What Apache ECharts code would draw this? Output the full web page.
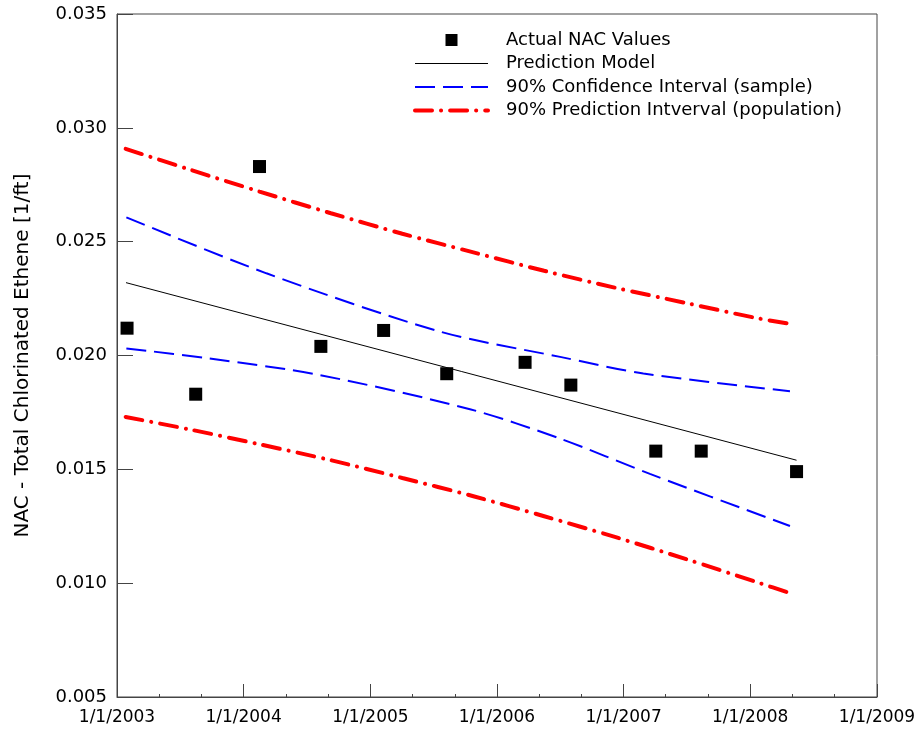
<!DOCTYPE html>
<html>
<head>
<meta charset="utf-8">
<script src="https://cdn.jsdelivr.net/npm/echarts@6/dist/echarts.min.js"></script>
<style>
  html, body { margin: 0; padding: 0; background: #fff; }
  #chart { width: 922px; height: 730px; }
</style>
</head>
<body>
<div id="chart"></div>
<script>
// observed NAC values
var obsDates = ['2003-01-30', '2003-08-16', '2004-02-16', '2004-08-11', '2005-02-08', '2005-08-09',
                '2006-03-23', '2006-08-02', '2007-04-04', '2007-08-13', '2008-05-14'];
var obsNac = [0.0212, 0.0183, 0.0283, 0.0204, 0.0211, 0.0192, 0.0197, 0.0187, 0.0158, 0.0158, 0.0149];

// regression line
var modelDates = ['2003-01-27', '2008-05-14'];
var modelNac = [0.0232, 0.0154];

// 90% confidence band (sample)
var ciUpperDates = ['2003-01-28', '2004-03-07', '2005-07-21', '2006-07-02', '2007-02-27', '2008-04-25'];
var ciUpper = [0.02607, 0.02361, 0.02105, 0.01994, 0.01921, 0.01843];
var ciLowerDates = ['2003-01-28', '2003-09-25', '2004-08-08', '2005-10-15', '2006-07-02', '2007-03-18', '2008-04-25'];
var ciLower = [0.02031, 0.01987, 0.01914, 0.01764, 0.01635, 0.01480, 0.01251];

// 90% prediction band (population)
var piDates = ['2003-01-26', '2003-07-27', '2004-02-16', '2004-09-09', '2005-04-03', '2005-10-25',
               '2006-05-17', '2006-12-07', '2007-07-02', '2008-01-21', '2008-05-05'];
var piUpper = [0.02908, 0.02818, 0.0272, 0.02625, 0.02535, 0.02453, 0.02372, 0.02298, 0.0223, 0.02164, 0.02137];
var piLower = [0.0173, 0.01676, 0.0161, 0.0154, 0.01462, 0.01382, 0.01294, 0.01203, 0.01105, 0.01004, 0.00951];

var yTicks = [0.005, 0.035, 0.005]; // min, max, step
var xRange = ['2003-01-01', '2009-01-01'];

var nameObs = 'Actual NAC Values';
var nameModel = 'Prediction Model';
var nameCI = '90% Confidence Interval (sample)';
var namePI = '90% Prediction Intverval (population)';

function utc(s) {
  var p = s.split('-');
  return Date.UTC(+p[0], +p[1] - 1, +p[2]);
}
function pairs(dates, vals) {
  return dates.map(function (d, i) { return [utc(d), vals[i]]; });
}

var FONT = 'DejaVu Sans';
var axisColor = '#444';
var redDash = [17, 9, 0.1, 9];
var blueDash = [20, 8];

var chart = echarts.init(document.getElementById('chart'), null, { renderer: 'canvas' });

function band(name, dates, vals, color, width, dash, cap) {
  return {
    name: name,
    type: 'line',
    data: pairs(dates, vals),
    symbol: 'none',
    showSymbol: false,
    smooth: 0.3,
    lineStyle: { color: color, width: width, type: dash, cap: cap || 'butt' },
    itemStyle: { color: color },
    z: 2
  };
}

chart.setOption({
  animation: false,
  useUTC: true,
  backgroundColor: '#fff',
  grid: {
    left: 117, right: 45, top: 14, bottom: 33,
    show: true, borderColor: axisColor, borderWidth: 1,
    outerBoundsMode: 'none'
  },
  legend: {
    orient: 'vertical',
    left: 413,
    top: 31,
    padding: 0,
    itemWidth: 73,
    itemHeight: 12,
    itemGap: 5.5,
    selectedMode: false,
    textStyle: { fontFamily: FONT, fontSize: 18, color: '#000', lineHeight: 18, padding: [0, 0, 0, 13] },
    data: [
      { name: nameObs, icon: 'path://M0,0H10V10H0Z', itemStyle: { color: '#000', opacity: 1 } },
      { name: nameModel, itemStyle: { opacity: 0 }, lineStyle: { color: '#000', width: 1 } },
      { name: nameCI, itemStyle: { opacity: 0 }, lineStyle: { color: '#0000ff', width: 2, type: blueDash } },
      { name: namePI, itemStyle: { opacity: 0 }, lineStyle: { color: '#ff0000', width: 4, type: redDash, cap: 'round' } }
    ]
  },
  xAxis: {
    type: 'time',
    min: utc(xRange[0]),
    max: utc(xRange[1]),
    splitNumber: 6,
    minInterval: 365 * 86400000,
    axisLine: { show: true, lineStyle: { color: axisColor, width: 1 } },
    axisTick: { show: true, inside: true, length: 13, lineStyle: { color: axisColor } },
    minorTick: { show: true, splitNumber: 3, length: 3, lineStyle: { color: axisColor } },
    splitLine: { show: false },
    axisLabel: {
      fontFamily: FONT, fontSize: 17, color: '#000', margin: 12,
      showMinLabel: true, showMaxLabel: true,
      formatter: function (v) {
        var d = new Date(v);
        return (d.getUTCMonth() + 1) + '/' + d.getUTCDate() + '/' + d.getUTCFullYear();
      }
    }
  },
  yAxis: {
    type: 'value',
    min: yTicks[0],
    max: yTicks[1],
    interval: yTicks[2],
    name: 'NAC - Total Chlorinated Ethene [1/ft]',
    nameLocation: 'middle',
    nameGap: 84,
    nameTextStyle: { fontFamily: FONT, fontSize: 20, color: '#000' },
    axisLine: { show: true, lineStyle: { color: axisColor, width: 1 } },
    axisTick: { show: true, inside: true, length: 16, lineStyle: { color: axisColor } },
    splitLine: { show: false },
    axisLabel: {
      fontFamily: FONT, fontSize: 18, color: '#000', margin: 10,
      formatter: function (v) { return v.toFixed(3); }
    }
  },
  series: [
    band(namePI, piDates, piUpper, '#ff0000', 4, redDash, 'round'),
    band(namePI, piDates, piLower, '#ff0000', 4, redDash, 'round'),
    band(nameCI, ciUpperDates, ciUpper, '#0000ff', 2, blueDash),
    band(nameCI, ciLowerDates, ciLower, '#0000ff', 2, blueDash),
    {
      name: nameModel,
      type: 'line',
      data: pairs(modelDates, modelNac),
      symbol: 'none',
      showSymbol: false,
      lineStyle: { color: '#000', width: 1 },
      itemStyle: { color: '#000' },
      z: 3
    },
    {
      name: nameObs,
      type: 'scatter',
      data: pairs(obsDates, obsNac),
      symbol: 'rect',
      symbolSize: 13,
      itemStyle: { color: '#000', opacity: 1 },
      z: 4
    }
  ]
});
</script>
</body>
</html>
